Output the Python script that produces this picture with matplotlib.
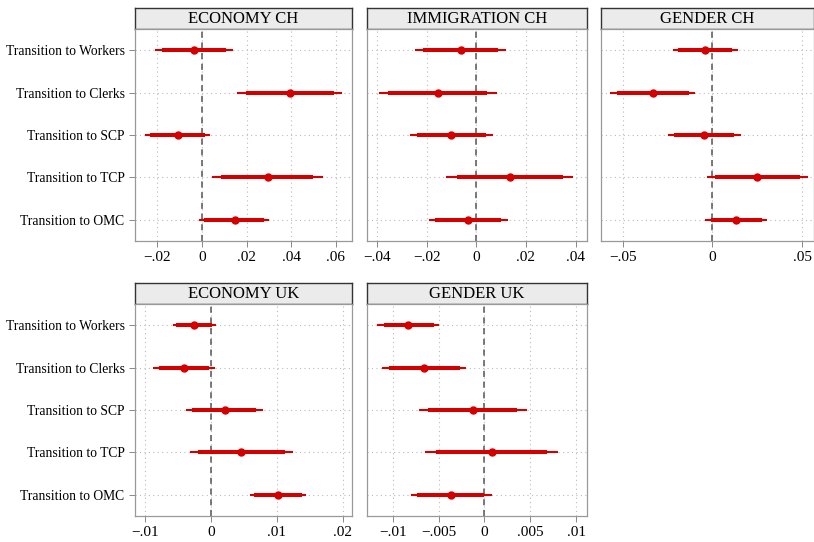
import matplotlib
matplotlib.use("Agg")
import matplotlib.pyplot as plt

plt.rcParams['font.family'] = ['Liberation Serif', 'DejaVu Serif']

rows = ["Transition to Workers", "Transition to Clerks", "Transition to SCP",
        "Transition to TCP", "Transition to OMC"]

# point estimate, inner CI (lo, hi), outer CI (lo, hi)
eco_ch_est = [-0.0037, 0.0395, -0.0107, 0.0294, 0.0146]
eco_ch_in = [(-0.0179, 0.0109), (0.0197, 0.0592), (-0.0231, 0.0015), (0.0086, 0.0499), (0.0010, 0.0279)]
eco_ch_out = [(-0.0209, 0.0137), (0.0157, 0.0629), (-0.0254, 0.0037), (0.0045, 0.0541), (-0.0012, 0.0302)]

imm_ch_est = [-0.0063, -0.0156, -0.0100, 0.0135, -0.0032]
imm_ch_in = [(-0.0214, 0.0089), (-0.0356, 0.0044), (-0.0238, 0.0039), (-0.0079, 0.0349), (-0.0167, 0.0098)]
imm_ch_out = [(-0.0248, 0.0120), (-0.0393, 0.0082), (-0.0268, 0.0066), (-0.0120, 0.0389), (-0.0191, 0.0127)]

gen_ch_est = [-0.0041, -0.0331, -0.0046, 0.0250, 0.0133]
gen_ch_in = [(-0.0189, 0.0107), (-0.0531, -0.0133), (-0.0213, 0.0122), (0.0015, 0.0487), (-0.0009, 0.0278)]
gen_ch_out = [(-0.0217, 0.0141), (-0.0569, -0.0096), (-0.0248, 0.0157), (-0.0028, 0.0530), (-0.0041, 0.0306)]

eco_uk_est = [-0.0025, -0.0040, 0.0021, 0.0046, 0.0102]
eco_uk_in = [(-0.0053, 0.0002), (-0.0078, -0.0003), (-0.0028, 0.0069), (-0.0019, 0.0112), (0.0066, 0.0138)]
eco_uk_out = [(-0.0058, 0.0008), (-0.0087, 0.0007), (-0.0037, 0.0079), (-0.0031, 0.0125), (0.0060, 0.0145)]

gen_uk_est = [-0.0083, -0.0066, -0.0012, 0.0008, -0.0036]
gen_uk_in = [(-0.0110, -0.0055), (-0.0104, -0.0027), (-0.0061, 0.0036), (-0.0053, 0.0068), (-0.0073, 0.0000)]
gen_uk_out = [(-0.0117, -0.0050), (-0.0112, -0.0020), (-0.0071, 0.0046), (-0.0065, 0.0080), (-0.0080, 0.0008)]

W, H = 814, 542
red = '#d40000'


def px_axes(fig, x0, x1, y0, y1):
    return fig.add_axes([x0 / W, 1 - y1 / H, (x1 - x0) / W, (y1 - y0) / H])


def panel(fig, x0, x1, ytop, title, est, inner, outer, xlim, ticks, labels, ylabels):
    # title strip
    tax = px_axes(fig, x0, x1, ytop, ytop + 21)
    tax.set_facecolor('#ebebeb')
    tax.set_xticks([])
    tax.set_yticks([])
    for s in tax.spines.values():
        s.set_color('#333333')
        s.set_linewidth(1.0)
    tax.text(0.5, 0.47, title, ha='center', va='center', fontsize=12, transform=tax.transAxes)

    ax = px_axes(fig, x0, x1, ytop + 21, ytop + 233)
    ypos = list(range(1, len(rows) + 1))
    for y, e, (il, ih), (ol, oh) in zip(ypos, est, inner, outer):
        ax.plot([ol, oh], [y, y], color=red, lw=1.5, solid_capstyle='butt', zorder=3)
        ax.plot([il, ih], [y, y], color=red, lw=2.9, solid_capstyle='butt', zorder=4)
        ax.plot([e], [y], 'o', color=red, ms=5, zorder=5)
    ax.axvline(0, color='#555555', lw=1.1, ls=(0, (4, 3)), zorder=2)
    ax.set_xlim(*xlim)
    ax.set_ylim(len(rows) + 0.5, 0.5)
    ax.set_xticks(ticks)
    ax.set_xticklabels([l.replace("-", "\u2212") for l in labels], fontsize=11)
    ax.set_yticks(ypos)
    ax.tick_params(colors='#888888', labelcolor='black', length=4, width=0.7)
    if ylabels:
        ax.set_yticklabels(rows, fontsize=9.8)
    else:
        ax.tick_params(axis='y', length=0, labelleft=False)
    ax.grid(True, color='#bbbbbb', ls=(0, (1, 3)), lw=0.8, zorder=1)
    for s in ax.spines.values():
        s.set_color('#999999')
        s.set_linewidth(0.9)
    return ax


fig = plt.figure(figsize=(W / 100, H / 100), dpi=100)

panel(fig, 135, 352, 8, "ECONOMY CH", eco_ch_est, eco_ch_in, eco_ch_out, (-0.030, 0.0672),
      [-0.02, 0, 0.02, 0.04, 0.06], ["-.02", "0", ".02", ".04", ".06"], True)
panel(fig, 367, 587, 8, "IMMIGRATION CH", imm_ch_est, imm_ch_in, imm_ch_out, (-0.044, 0.0446),
      [-0.04, -0.02, 0, 0.02, 0.04], ["-.04", "-.02", "0", ".02", ".04"], False)
panel(fig, 601, 813.5, 8, "GENDER CH", gen_ch_est, gen_ch_in, gen_ch_out, (-0.062, 0.0562),
      [-0.05, 0, 0.05], ["-.05", "0", ".05"], False)
panel(fig, 135, 352, 283, "ECONOMY UK", eco_uk_est, eco_uk_in, eco_uk_out, (-0.0115, 0.0214),
      [-0.01, 0, 0.01, 0.02], ["-.01", "0", ".01", ".02"], True)
panel(fig, 367, 587, 283, "GENDER UK", gen_uk_est, gen_uk_in, gen_uk_out, (-0.0128, 0.0112),
      [-0.01, -0.005, 0, 0.005, 0.01], ["-.01", "-.005", "0", ".005", ".01"], False)

fig.savefig("out.png", dpi=100, facecolor='white')
